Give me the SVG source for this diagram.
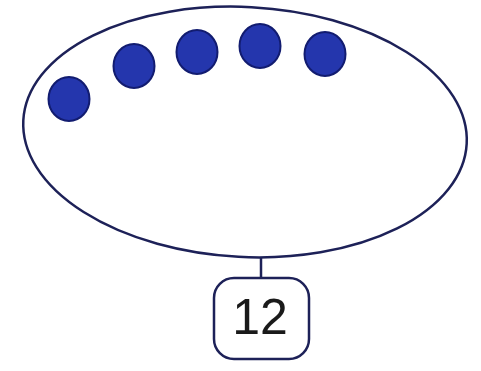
<svg xmlns="http://www.w3.org/2000/svg" width="481" height="371" viewBox="0 0 481 371">
<style>
.dot{fill:#2436ad;stroke:#121c70;stroke-width:2}
.ln{fill:none;stroke:#1d2158;stroke-width:2.5}
.lbl{font-family:"Liberation Sans",Arial,sans-serif;font-size:50px;fill:#1a1a1a}
</style>
<rect width="481" height="371" fill="#ffffff"/>
<g id="set">
<ellipse class="ln" cx="245" cy="132" rx="222" ry="125" transform="rotate(3 245 132)"/>
<ellipse class="dot" cx="69" cy="99" rx="20.5" ry="22"/>
<ellipse class="dot" cx="134" cy="66" rx="20.5" ry="22"/>
<ellipse class="dot" cx="197" cy="52" rx="20.5" ry="22"/>
<ellipse class="dot" cx="260" cy="46" rx="20.5" ry="22"/>
<ellipse class="dot" cx="325" cy="54" rx="20.5" ry="22"/>
</g>
<g id="connectors">
<line class="ln" x1="261" y1="257" x2="261" y2="278"/>
</g>
<g id="count">
<rect class="ln" x="214" y="278" width="95" height="81" rx="20"/>
<text class="lbl" x="260" y="334" text-anchor="middle">12</text>
</g>
</svg>
